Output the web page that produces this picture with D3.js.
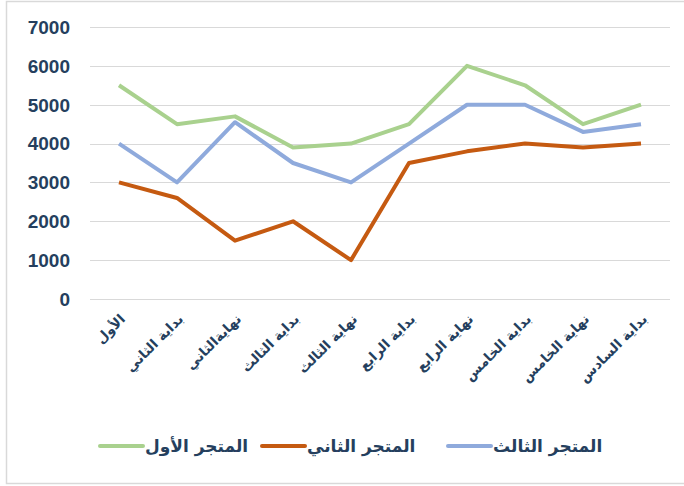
<!DOCTYPE html>
<head>
<meta charset="utf-8">
<style>
body { margin: 0; background: #fff; }
svg { display: block; }
.ylab { font: bold 19px "Liberation Sans", Arial, sans-serif; fill: #253f5e; }
.xlab { font: bold 13.5px "DejaVu Sans", sans-serif; fill: #253f5e; }
.leg { font: bold 17px "DejaVu Sans", sans-serif; fill: #253f5e; }
</style>
</head>
<body>
<svg width="684" height="486"></svg>
<script src="https://cdn.jsdelivr.net/npm/d3@7"></script>
<script>
var categories = ["الأول", "بداية الثاني", "نهايةالثاني", "بداية الثالث", "نهاية الثالث",
                  "بداية الرابع", "نهاية الرابع", "بداية الخامس", "نهاية الخامس", "بداية السادس"];
var store1 = [5500, 4500, 4700, 3900, 4000, 4500, 6000, 5500, 4500, 5000];
var store2 = [3000, 2600, 1500, 2000, 1000, 3500, 3800, 4000, 3900, 4000];
var store3 = [4000, 3000, 4550, 3500, 3000, 4000, 5000, 5000, 4300, 4500];
var yTicks = [0, 1000, 2000, 3000, 4000, 5000, 6000, 7000];

var series = [
  { name: "المتجر الأول", values: store1, color: "#a9d18e" },
  { name: "المتجر الثاني", values: store2, color: "#c55a11" },
  { name: "المتجر الثالث", values: store3, color: "#8faadc" }
];

var svg = d3.select("svg");

// outer frame
svg.append("rect")
  .attr("x", 6.5).attr("y", 1.5)
  .attr("width", 700).attr("height", 482)
  .attr("fill", "none").attr("stroke", "#d9d9d9").attr("stroke-width", 1.5);

var x = d3.scalePoint().domain(categories).range([90, 670]).padding(0.5);
var y = d3.scaleLinear().domain([0, 7000]).range([299, 27]);

// gridlines
svg.append("g").selectAll("line")
  .data(yTicks)
  .enter().append("line")
    .attr("x1", 90).attr("x2", 670)
    .attr("y1", function(d) { return Math.round(y(d)) + 0.5; })
    .attr("y2", function(d) { return Math.round(y(d)) + 0.5; })
    .attr("stroke", "#d9d9d9").attr("stroke-width", 1);

// y labels
svg.append("g").selectAll("text")
  .data(yTicks)
  .enter().append("text")
    .attr("class", "ylab")
    .attr("x", 70)
    .attr("y", function(d) { return y(d); })
    .attr("dy", "0.36em")
    .attr("text-anchor", "end")
    .text(function(d) { return d; });

// x labels
svg.append("g").selectAll("text")
  .data(categories)
  .enter().append("text")
    .attr("class", "xlab")
    .attr("text-anchor", "end")
    .attr("transform", function(d) { return "translate(" + (x(d) + 7) + ",320) rotate(-45)"; })
    .text(function(d) { return d; });

// lines
var line = d3.line()
  .x(function(d, i) { return x(categories[i]); })
  .y(function(d) { return y(d); });

svg.append("g").selectAll("path")
  .data(series)
  .enter().append("path")
    .attr("d", function(s) { return line(s.values); })
    .attr("fill", "none")
    .attr("stroke", function(s) { return s.color; })
    .attr("stroke-width", 4)
    .attr("stroke-linejoin", "round");

// legend
var legX = [100, 262, 448];
var leg = svg.append("g").selectAll("g")
  .data(series)
  .enter().append("g")
    .attr("transform", function(s, i) { return "translate(" + legX[i] + ",446)"; });
leg.append("line")
  .attr("x1", 0).attr("x2", 43)
  .attr("stroke", function(s) { return s.color; })
  .attr("stroke-width", 4)
  .attr("stroke-linecap", "round");
leg.append("text")
  .attr("class", "leg")
  .attr("x", 45)
  .attr("y", 6)
  .text(function(s) { return s.name; });
</script>
</body>
